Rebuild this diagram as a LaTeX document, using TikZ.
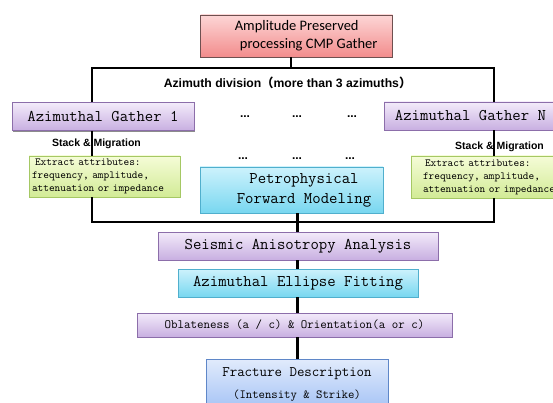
\documentclass[tikz,border=0pt]{standalone}
\usepackage{fontspec}
\newfontfamily\calfont{Carlito}
\newfontfamily\arialfont{Liberation Sans}
\newfontfamily\cjkfont{Noto Sans CJK SC}
\usepackage{tikz}
\usetikzlibrary{shadows}

\definecolor{pinktop}{RGB}{253,214,214}
\definecolor{pinkbot}{RGB}{242,140,140}
\definecolor{pinkline}{RGB}{110,80,80}
\definecolor{lilactop}{RGB}{243,235,250}
\definecolor{lilacbot}{RGB}{200,175,225}
\definecolor{lilacline}{RGB}{140,110,170}
\definecolor{cyantop}{RGB}{205,242,252}
\definecolor{cyanbot}{RGB}{120,215,240}
\definecolor{cyanline}{RGB}{80,175,205}
\definecolor{limetop}{RGB}{245,252,215}
\definecolor{limebot}{RGB}{210,235,150}
\definecolor{limeline}{RGB}{165,200,100}
\definecolor{bluetop}{RGB}{225,235,252}
\definecolor{bluebot}{RGB}{165,195,245}
\definecolor{blueline}{RGB}{95,135,200}

\tikzset{
    box/.style={draw, line width=0.8pt, inner sep=0pt,
        drop shadow={shadow xshift=0.6pt, shadow yshift=-1.2pt, fill=black, opacity=0.45}},
    pinkbox/.style={box, draw=pinkline, top color=pinktop, bottom color=pinkbot},
    lilacbox/.style={box, draw=lilacline, top color=lilactop, bottom color=lilacbot},
    cyanbox/.style={box, draw=cyanline, top color=cyantop, bottom color=cyanbot},
    limebox/.style={box, draw=limeline, top color=limetop, bottom color=limebot},
    bluebox/.style={box, draw=blueline, top color=bluetop, bottom color=bluebot},
    bigtext/.style={font=\ttfamily\fontsize{16.3}{20}\selectfont},
    smalltext/.style={font=\ttfamily\fontsize{10.8}{13}\selectfont},
    caption/.style={font=\arialfont\bfseries\fontsize{10.5}{12}\selectfont, inner sep=0pt},
    dots/.style={font=\arialfont\bfseries\fontsize{12}{12}\selectfont, inner sep=0pt},
    bus/.style={line width=2.6pt}
}

\begin{document}
\begin{tikzpicture}[x=1pt, y=-1pt]
    \useasboundingbox (0,0) rectangle (553,403);
    \clip (0,0) rectangle (553,403);

    \node[pinkbox, minimum width=192pt, minimum height=42pt, align=center,
        font=\calfont\fontsize{14.5}{18}\selectfont] (amp) at (296.7,36)
        {Amplitude Preserved\\\hspace*{24pt}processing CMP Gather};

    \node[caption, font=\arialfont\bfseries\fontsize{12.2}{14}\selectfont] (azdiv) at (287.5,83)
        {Azimuth division{\cjkfont（}more than 3 azimuths{\cjkfont）}};

    \node[lilacbox, bigtext, minimum width=182pt, minimum height=28pt] (gath1) at (103,116.5) {Azimuthal Gather 1};
    \node[lilacbox, bigtext, minimum width=173pt, minimum height=28pt] (gathN) at (470.5,116) {Azimuthal Gather N};

    \node[dots] (d1) at (245,117) {...};
    \node[dots] (d2) at (297,117) {...};
    \node[dots] (d3) at (352,117) {...};
    \node[dots] (d4) at (243,159) {...};
    \node[dots] (d5) at (297,159) {...};
    \node[dots] (d6) at (350,159) {...};

    \node[caption] (stack1) at (96.5,144) {Stack \& Migration};
    \node[caption] (stackN) at (499.5,147) {Stack \& Migration};

    \node[limebox, smalltext, text width=145pt, align=left, inner xsep=3pt, minimum height=41pt] (attr1) at (104.5,176.5)
        {\hspace*{3pt}Extract attributes:\\frequency, amplitude,\\attenuation or impedance};
    \node[limebox, smalltext, text width=145pt, align=left, inner xsep=12pt, minimum height=42pt] (attrN) at (495.5,177)
        {\hspace*{2pt}Extract attributes:\\frequency, amplitude,\\attenuation or impedance};

    \node[cyanbox, bigtext, minimum width=183pt, minimum height=46pt, align=center] (petro) at (291.5,190)
        {\hspace*{25pt}Petrophysical\\\hspace*{25pt}Forward Modeling};

    \node[lilacbox, bigtext, minimum width=280pt, minimum height=28pt] (seis) at (298,246) {Seismic Anisotropy Analysis};
    \node[cyanbox, bigtext, minimum width=240pt, minimum height=28pt] (ellip) at (298,283) {Azimuthal Ellipse Fitting};
    \node[lilacbox, font=\ttfamily\fontsize{12.6}{14}\selectfont, minimum width=315pt, minimum height=24pt] (oblat) at (294.5,325)
        {Oblateness (a / c) \& Orientation(a or c)};
    \node[bluebox, font=\ttfamily\fontsize{14.5}{22}\selectfont, minimum width=182pt, minimum height=50pt, align=center] (fract) at (297,384)
        {Fracture Description\\{\fontsize{12.4}{22}\selectfont(Intensity \& Strike)}};

    \coordinate (topbus) at (291,68);
    \coordinate (botbus) at (297.5,222);
    \coordinate (lx) at (92,0);
    \coordinate (rx) at (494,0);

    \draw[bus] (amp.south -| topbus) -- (topbus);
    \draw[bus] (gath1.north -| lx) |- (topbus) -| (gathN.north -| rx);
    \draw[bus] (gath1.south -| lx) -- (attr1.north -| lx);
    \draw[bus] (gathN.south -| rx) -- (attrN.north -| rx);
    \draw[bus] (attr1.south -| lx) |- (botbus) -| (attrN.south -| rx);
    \draw[bus] (petro.south -| botbus) -- (seis.north -| botbus);
    \draw[bus] (seis.south -| botbus) -- (ellip.north -| botbus);
    \draw[bus] (ellip.south -| botbus) -- (oblat.north -| botbus);
    \draw[bus] (oblat.south -| botbus) -- (fract.north -| botbus);
\end{tikzpicture}
\end{document}
